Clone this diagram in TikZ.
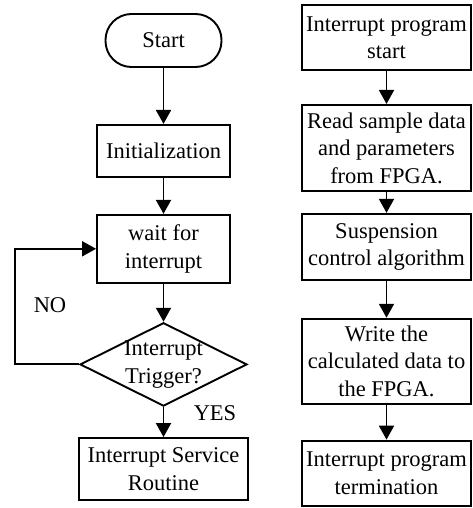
\documentclass[tikz,border=0pt]{standalone}
\usepackage{fontspec}
\setmainfont{Liberation Serif}
\usepackage{tikz}
\usetikzlibrary{
  arrows.meta,
  positioning,
  shapes.geometric
}

\begin{document}
\begin{tikzpicture}[
  x=1pt, y=-1pt,
  font=\fontsize{22.5}{27.5}\selectfont,
  line width=1.9pt,
  box/.style={draw,align=center,inner sep=0pt,minimum width=133pt},
  wbox/.style={box,minimum width=169pt},
  term/.style={box,minimum width=116pt,minimum height=53pt,rounded corners=26pt},
  dec/.style={draw,diamond,aspect=2,align=center,inner xsep=-2pt,inner ysep=-0.5pt},
  flow/.style={-{Triangle[length=14pt,width=15pt]}}
]
\useasboundingbox (0,0) rectangle (472,508);
% main program
\node[term] (start) at (163.5,40.5) {Start};
\node[box,minimum height=52pt,below=56pt of start] (init) {Initialization};
\node[box,minimum height=68pt,below=36pt of init] (wait) {wait for\\interrupt};
\node[dec,below=38pt of wait] (trig) {Interrupt\\Trigger?};
\node[wbox,minimum height=62pt] (isr) at (163.5,469) {Interrupt Service\\Routine};
\node (no) at (50,305) {NO};
\node (yes) at (215,413) {YES};
\draw[flow] (start) -- (init);
\draw[flow] (init) -- (wait);
\draw[flow] (wait) -- (trig);
\draw[flow] (trig) -- (isr);
\draw[flow] (trig.west) -- ++(-64,0) |- (wait.west);
% interrupt routine
\node[wbox,minimum height=65pt] (irqstart) at (386.5,37.5) {Interrupt program\\start};
\node[wbox,minimum height=86pt,below=33pt of irqstart] (read) {Read sample data\\and parameters\\from FPGA.};
\node[wbox,minimum height=66pt,below=21pt of read] (ctrl) {Suspension\\control algorithm};
\node[wbox,minimum height=85pt,below=37pt of ctrl] (write) {Write the\\calculated data to\\the FPGA.};
\node[wbox,minimum height=65pt,below=35pt of write] (irqend) {Interrupt program\\termination};
\draw[flow] (irqstart) -- (read);
\draw[flow] (read) -- (ctrl);
\draw[flow] (ctrl) -- (write);
\draw[flow] (write) -- (irqend);
\end{tikzpicture}
\end{document}
